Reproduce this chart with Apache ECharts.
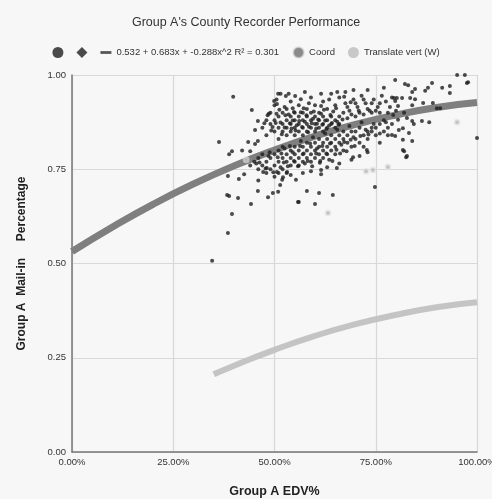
<!DOCTYPE html>
<html><head><meta charset="utf-8">
<script src="https://cdn.jsdelivr.net/npm/echarts@6/dist/echarts.min.js"></script>
<style>html,body{margin:0;padding:0;background:#f7f7f7}#c{width:492px;height:499px}</style>
</head><body><div id="c"></div>
<script>
// ---- data ----
const xTicks = ['0.00%','25.00%','50.00%','75.00%','100.00%'];
const yTicks = ['0.00','0.25','0.50','0.75','1.00'];
const eqLabel = '0.532 + 0.683x + -0.288x^2 R\u00b2 = 0.301';

// trend curve (read along the thick dark-gray band)
const trendX = [0, 0.1, 0.2, 0.3, 0.4, 0.5, 0.6, 0.7, 0.8, 0.9, 1.0];
const trendY = [0.532, 0.597, 0.657, 0.711, 0.759, 0.801, 0.838, 0.869, 0.894, 0.914, 0.927];

// translated curve (light-gray band)
const transX = [0.35, 0.4, 0.5, 0.6, 0.7, 0.8, 0.9, 1.0];
const transY = [0.206, 0.229, 0.271, 0.308, 0.339, 0.364, 0.384, 0.397];

// gray "Coord" points
const coordPts = [[0.632,0.634],[0.951,0.875],[0.726,0.745],[0.743,0.748],[0.78,0.756],[0.43,0.775]];

// black county points
const countyPts = [
[0.47,0.86],[0.48,0.88],[0.48,0.84],[0.49,0.87],[0.49,0.90],[0.50,0.85],[0.50,0.88],[0.50,0.92],[0.51,0.86],[0.51,0.89],[0.51,0.83],[0.52,0.87],[0.52,0.90],[0.52,0.85],[0.53,0.88],[0.53,0.86],[0.53,0.91],[0.53,0.84],[0.54,0.87],[0.54,0.89],[0.54,0.85],[0.54,0.93],[0.55,0.86],[0.55,0.88],[0.55,0.90],[0.55,0.84],[0.56,0.87],[0.56,0.89],[0.56,0.85],[0.56,0.92],[0.57,0.88],[0.57,0.86],[0.57,0.90],[0.57,0.84],[0.58,0.87],[0.58,0.89],[0.58,0.85],[0.58,0.91],[0.59,0.88],[0.59,0.86],[0.59,0.90],[0.59,0.94],[0.60,0.87],[0.60,0.89],[0.60,0.85],[0.60,0.92],[0.61,0.88],[0.61,0.86],[0.61,0.90],[0.62,0.87],[0.62,0.89],[0.62,0.85],[0.62,0.93],[0.63,0.88],[0.63,0.86],[0.63,0.91],[0.64,0.87],[0.64,0.89],[0.64,0.95],[0.65,0.88],[0.65,0.86],[0.65,0.92],[0.66,0.89],[0.66,0.87],[0.66,0.94],
[0.475,0.872],[0.495,0.862],[0.505,0.897],[0.515,0.874],[0.525,0.861],[0.535,0.895],[0.545,0.879],[0.555,0.867],[0.565,0.901],[0.575,0.876],[0.585,0.863],[0.595,0.884],[0.605,0.871],[0.615,0.897],[0.625,0.879],[0.635,0.866],[0.645,0.903],[0.655,0.876],[0.545,0.912],[0.585,0.925],[0.615,0.918],[0.525,0.915],[0.565,0.936],[0.505,0.935],[0.635,0.935],[0.675,0.925],[0.685,0.905],[0.695,0.935],[0.705,0.915],[0.715,0.945],[0.725,0.925],[0.735,0.905],[0.745,0.935],[0.755,0.915],[0.765,0.945],[0.675,0.955],[0.695,0.96],[0.655,0.955],[0.615,0.95],[0.575,0.955],[0.535,0.95],[0.515,0.95],[0.73,0.96],[0.77,0.966],[0.775,0.93],[0.785,0.915],[0.79,0.94],[0.68,0.885],[0.69,0.895],[0.70,0.89],[0.71,0.9],[0.72,0.895],[0.73,0.91],[0.74,0.9],[0.75,0.905],[0.76,0.9],[0.67,0.9],[0.68,0.915],[0.70,0.925],[0.72,0.935],[0.74,0.925],[0.76,0.925],[0.78,0.9],
[0.483,0.893],[0.492,0.853],[0.503,0.873],[0.512,0.908],[0.518,0.843],[0.527,0.893],[0.538,0.872],[0.542,0.858],[0.548,0.902],[0.552,0.853],[0.561,0.878],[0.568,0.862],[0.572,0.912],[0.579,0.893],[0.583,0.848],[0.592,0.872],[0.597,0.903],[0.603,0.858],[0.608,0.882],[0.618,0.868],[0.622,0.908],[0.628,0.857],[0.638,0.894],[0.642,0.873],[0.652,0.912],[0.658,0.868],[0.668,0.882],[0.672,0.942],[0.688,0.928],[0.708,0.905],
[0.45,0.77],[0.46,0.75],[0.46,0.78],[0.47,0.76],[0.47,0.79],[0.48,0.74],[0.48,0.77],[0.49,0.78],[0.49,0.75],[0.50,0.79],[0.50,0.76],[0.50,0.73],[0.51,0.77],[0.51,0.80],[0.51,0.74],[0.52,0.78],[0.52,0.75],[0.52,0.81],[0.53,0.77],[0.53,0.79],[0.53,0.74],[0.54,0.78],[0.54,0.80],[0.54,0.76],[0.55,0.77],[0.55,0.81],[0.55,0.79],[0.56,0.78],[0.56,0.80],[0.56,0.76],[0.57,0.79],[0.57,0.81],[0.57,0.77],[0.58,0.80],[0.58,0.78],[0.58,0.82],[0.59,0.79],[0.59,0.81],[0.59,0.77],[0.60,0.80],[0.60,0.82],[0.60,0.78],[0.61,0.81],[0.61,0.79],[0.61,0.83],[0.62,0.80],[0.62,0.82],[0.62,0.78],[0.63,0.81],[0.63,0.83],[0.63,0.79],[0.64,0.82],[0.64,0.80],[0.64,0.84],[0.65,0.81],[0.65,0.83],[0.65,0.79],[0.66,0.82],[0.66,0.84],[0.67,0.80],[0.67,0.83],[0.67,0.85],[0.68,0.82],[0.68,0.84],[0.69,0.81],[0.69,0.85],[0.70,0.83],[0.70,0.85],[0.71,0.82],[0.71,0.86],[0.72,0.84],[0.72,0.81],[0.73,0.85],[0.73,0.83],[0.74,0.86],[0.75,0.84],[0.76,0.82],[0.77,0.85],[0.455,0.765],[0.485,0.785],[0.515,0.755],[0.545,0.795],[0.575,0.765],[0.605,0.805],[0.635,0.775],[0.665,0.815],[0.695,0.835],[0.725,0.855],[0.525,0.805],[0.565,0.825],[0.595,0.835],[0.625,0.845],[0.655,0.855],[0.685,0.865],[0.715,0.875],[0.745,0.87],[0.775,0.875],
[0.463,0.768],[0.478,0.752],[0.488,0.795],[0.497,0.742],[0.508,0.782],[0.517,0.792],[0.523,0.768],[0.533,0.758],[0.538,0.812],[0.548,0.772],[0.558,0.758],[0.563,0.812],[0.572,0.792],[0.582,0.772],[0.588,0.818],[0.593,0.758],[0.603,0.792],[0.613,0.772],[0.618,0.812],[0.628,0.792],[0.637,0.818],[0.643,0.772],[0.653,0.802],[0.662,0.792],[0.672,0.822],[0.678,0.798],[0.688,0.828],[0.698,0.812],[0.712,0.838],[0.732,0.842],
[0.398,0.942],[0.444,0.907],[0.363,0.822],[0.395,0.798],[0.388,0.79],[0.435,0.822],[0.452,0.817],[0.459,0.825],[0.44,0.798],[0.452,0.854],[0.459,0.878],[0.486,0.897],[0.499,0.931],[0.509,0.95],[0.528,0.944],[0.551,0.944],[0.506,0.923],[0.385,0.732],[0.412,0.724],[0.425,0.737],[0.383,0.682],[0.388,0.679],[0.41,0.674],[0.395,0.631],[0.385,0.581],[0.346,0.507],[0.442,0.658],[0.459,0.692],[0.484,0.676],[0.496,0.687],[0.509,0.69],[0.558,0.663],[0.472,0.743],[0.481,0.753],[0.506,0.743],[0.519,0.722],[0.514,0.708],[0.531,0.743],[0.553,0.722],[0.521,0.729],[0.58,0.692],[0.61,0.687],[0.644,0.682],[0.56,0.663],[0.60,0.658],[0.748,0.703],[0.615,0.748],[0.615,0.737],[0.654,0.753],[0.42,0.80],[0.44,0.76],[0.46,0.72],[0.54,0.735],[0.57,0.74],[0.59,0.745],[0.63,0.755],[0.66,0.765],[0.69,0.775],[0.71,0.785],[0.73,0.795],[0.612,0.767],[0.694,0.782],[0.728,0.801],
[0.798,0.987],[0.822,0.976],[0.83,0.973],[0.951,1.0],[0.97,1.0],[0.978,0.981],[0.975,0.979],[0.889,0.979],[0.914,0.966],[0.933,0.971],[0.879,0.966],[0.872,0.958],[0.847,0.963],[0.84,0.955],[0.933,0.952],[0.795,0.939],[0.802,0.939],[0.815,0.939],[0.835,0.939],[0.847,0.936],[0.798,0.931],[0.867,0.926],[0.891,0.926],[0.901,0.912],[0.909,0.912],[0.805,0.918],[0.84,0.92],[0.793,0.894],[0.805,0.881],[0.827,0.886],[0.84,0.878],[0.844,0.87],[0.864,0.878],[0.882,0.875],[1.0,0.833],[0.798,0.838],[0.807,0.854],[0.817,0.859],[0.832,0.846],[0.817,0.828],[0.84,0.825],[0.817,0.801],[0.827,0.785],[0.79,0.841],[0.825,0.782],[0.82,0.798],[0.77,0.88],[0.78,0.86],[0.79,0.87],[0.80,0.905],[0.82,0.90],[0.76,0.87],[0.75,0.86],[0.74,0.85],[0.78,0.84],[0.76,0.845]
];
const diamondPts = [];

// ---- chart ----
const chart = echarts.init(document.getElementById('c'), null, {renderer:'canvas'});
const F = 'Liberation Sans, Arial, sans-serif';
const zip = (xs, ys) => xs.map((x, i) => [x, ys[i]]);
chart.setOption({
  backgroundColor: '#f7f7f7',
  animation: false,
  title: { text: "Group A's County Recorder Performance", left: 'center', top: 11,
    textStyle: { fontFamily: F, fontSize: 12.5, fontWeight: 'normal', color: '#333' } },
  legend: {
    top: 41, left: 'center', itemGap: 13, itemWidth: 11, itemHeight: 11,
    textStyle: { fontFamily: F, fontSize: 9.5, color: '#333' },
    formatter: n => (n === 'pts' || n === 'dia') ? '' : n,
    data: [
      { name: 'pts', icon: 'circle', itemStyle: { color: '#1e1e1e' } },
      { name: 'dia', icon: 'diamond', itemStyle: { color: '#1e1e1e' } },
      { name: eqLabel, icon: 'path://M0,0 L20,0 L20,5 L0,5 Z', itemStyle: { color: '#555' } },
      { name: 'Coord', icon: 'circle', itemStyle: { color: '#6e6e6e' } },
      { name: 'Translate vert (W)', icon: 'circle', itemStyle: { color: '#c8c8c8' } }
    ]
  },
  grid: { left: 72, right: 15, top: 75, bottom: 47, outerBoundsMode: 'none', containLabel: false },
  xAxis: {
    type: 'value', min: 0, max: 1, interval: 0.25,
    name: 'Group A EDV%', nameLocation: 'middle', nameGap: 33,
    nameTextStyle: { fontFamily: F, fontSize: 12.5, fontWeight: 'bold', color: '#222' },
    axisLine: { lineStyle: { color: '#777', width: 1.5 } },
    axisTick: { show: false },
    axisLabel: { fontFamily: F, fontSize: 9.5, color: '#333', margin: 5,
      formatter: v => xTicks[Math.round(v * 4)] },
    splitLine: { show: true, lineStyle: { color: '#d8d8d8', width: 1.2 } }
  },
  yAxis: {
    type: 'value', min: 0, max: 1, interval: 0.25,
    name: 'Group A  Mail-in     Percentage', nameLocation: 'middle', nameGap: 44,
    nameTextStyle: { fontFamily: F, fontSize: 12, fontWeight: 'bold', color: '#222' },
    axisLine: { show: true, lineStyle: { color: '#777', width: 1.5 } },
    axisTick: { show: false },
    axisLabel: { fontFamily: F, fontSize: 9.5, color: '#333', margin: 6,
      formatter: v => yTicks[Math.round(v * 4)] },
    splitLine: { show: true, lineStyle: { color: '#d8d8d8', width: 1.2 } }
  },
  series: [
    { name: 'Translate vert (W)', type: 'line', smooth: true, showSymbol: false,
      data: zip(transX, transY), lineStyle: { color: '#c4c4c4', width: 6 }, z: 2 },
    { name: eqLabel, type: 'line', smooth: true, showSymbol: false,
      data: zip(trendX, trendY), lineStyle: { color: '#7f7f7f', width: 7 }, z: 3 },
    { name: 'pts', type: 'scatter', symbol: 'circle', symbolSize: 4,
      data: countyPts, itemStyle: { color: '#1e1e1e' }, z: 4 },
    { name: 'dia', type: 'scatter', symbol: 'diamond', symbolSize: 5,
      data: diamondPts, itemStyle: { color: '#1e1e1e' }, z: 4 },
    { name: 'Coord', type: 'scatter', symbol: 'circle', symbolSize: 4,
      data: coordPts, itemStyle: { color: '#8a8a8a', borderColor: 'rgba(225,225,225,0.8)', borderWidth: 3 }, z: 5 }
  ]
});
</script></body></html>
